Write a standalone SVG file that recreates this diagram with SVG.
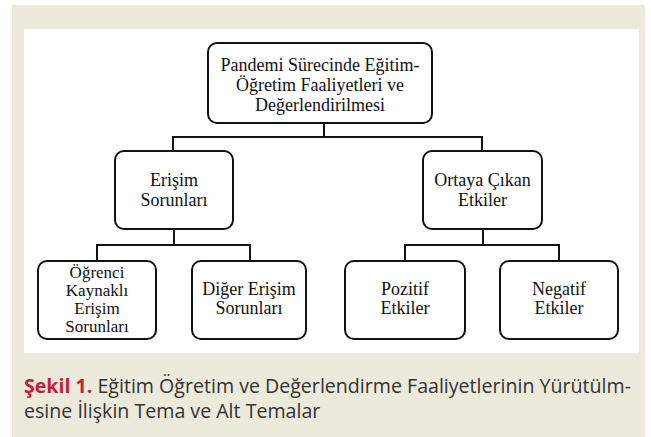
<svg xmlns="http://www.w3.org/2000/svg" width="651" height="437" viewBox="0 0 651 437">
<style>
.box{fill:#fff;stroke:#111;stroke-width:2}
.t{font-family:"Liberation Serif","Times New Roman",serif;font-size:18px;fill:#111;text-anchor:middle}
.t4{font-size:17px}
.con{fill:none;stroke:#111;stroke-width:2}
.cap{font-family:"Open Sans","Lato",sans-serif;font-size:19.6px;fill:#333}
.capb{fill:#c41e3a;font-weight:bold}
</style>
<rect x="12" y="5" width="633" height="432" fill="#eceada"/>
<rect x="24" y="29" width="615" height="324" fill="#fff"/>
<g id="connectors">
<path class="con" d="M324 123V137M173 151V137H482V151"/>
<path class="con" d="M174 229V245M97 261V245H250V261"/>
<path class="con" d="M483 229V245M405 261V245H559V261"/>
</g>
<g id="root">
<rect class="box" x="208" y="43" width="224" height="80" rx="9"/>
<text class="t" x="320" y="71">Pandemi Sürecinde Eğitim-</text>
<text class="t" x="320" y="91">Öğretim Faaliyetleri ve</text>
<text class="t" x="320" y="111">Değerlendirilmesi</text>
</g>
<g id="erisim">
<rect class="box" x="115" y="151" width="118" height="78" rx="9"/>
<text class="t" x="174" y="186">Erişim</text>
<text class="t" x="174" y="206">Sorunları</text>
</g>
<g id="ortaya">
<rect class="box" x="423" y="151" width="119" height="78" rx="9"/>
<text class="t" x="482.5" y="186">Ortaya Çıkan</text>
<text class="t" x="482.5" y="206">Etkiler</text>
</g>
<g id="ogrenci">
<rect class="box" x="38" y="261" width="118" height="78" rx="9"/>
<text class="t t4" x="97" y="278">Öğrenci</text>
<text class="t t4" x="97" y="296">Kaynaklı</text>
<text class="t t4" x="97" y="314">Erişim</text>
<text class="t t4" x="97" y="332">Sorunları</text>
</g>
<g id="diger">
<rect class="box" x="192" y="261" width="114" height="78" rx="9"/>
<text class="t" x="249" y="295">Diğer Erişim</text>
<text class="t" x="249" y="314">Sorunları</text>
</g>
<g id="pozitif">
<rect class="box" x="345" y="261" width="120" height="78" rx="9"/>
<text class="t" x="405" y="295">Pozitif</text>
<text class="t" x="405" y="314">Etkiler</text>
</g>
<g id="negatif">
<rect class="box" x="500" y="261" width="118" height="78" rx="9"/>
<text class="t" x="559" y="295">Negatif</text>
<text class="t" x="559" y="314">Etkiler</text>
</g>
<g id="caption">
<text class="cap" x="24" y="393"><tspan class="capb">Şekil 1.</tspan> Eğitim Öğretim ve Değerlendirme Faaliyetlerinin Yürütülm-</text>
<text class="cap" x="24" y="418">esine İlişkin Tema ve Alt Temalar</text>
</g>
</svg>
